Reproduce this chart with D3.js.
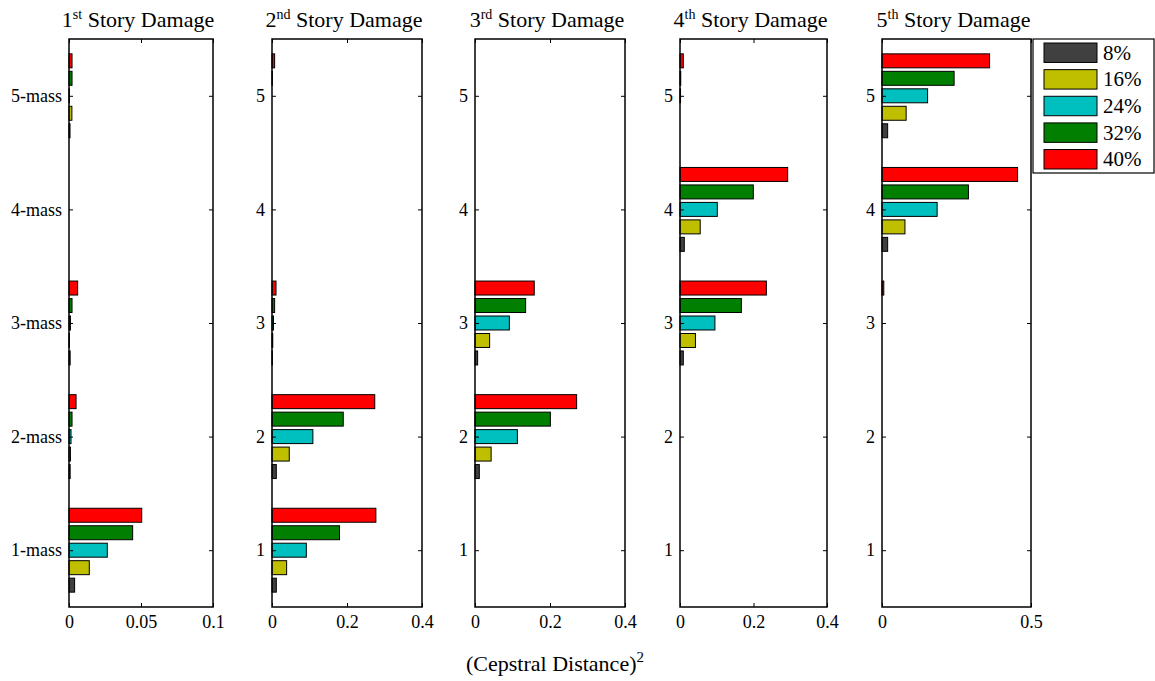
<!DOCTYPE html>
<html>
<head>
<meta charset="utf-8">
<script src="https://cdn.jsdelivr.net/npm/d3@7"></script>
<style>
  body { margin: 0; background: #fff; }
  text { font-family: "Liberation Serif", "Times New Roman", serif; fill: #000; }
</style>
</head>
<body>
<svg id="chart" width="1155" height="681"></svg>
<script>
// damage levels (series) and colours
var levels = ["8%", "16%", "24%", "32%", "40%"];
var colors = ["#404040", "#bfbf00", "#00bfbf", "#007f00", "#ff0000"];

var masses = [1, 2, 3, 4, 5];
var massLabels1 = ["1-mass", "2-mass", "3-mass", "4-mass", "5-mass"];
var massLabels = ["1", "2", "3", "4", "5"];

var titles = ["1", "2", "3", "4", "5"];
var titleSups = ["st", "nd", "rd", "th", "th"];

// rows = damage level (8%..40%), cols = mass 1..5
var story1Vals = [
    [0.0039, 0.0008, 0.0008, 0, 0.0007],
    [0.0141, 0.0010, 0.0003, 0, 0.0020],
    [0.0266, 0.0014, 0.0010, 0, 0.0003],
    [0.0442, 0.0021, 0.0021, 0, 0.0021],
    [0.0505, 0.0049, 0.0060, 0, 0.0021]
];
var story2Vals = [
    [0.0115, 0.0115, 0.001, 0, 0],
    [0.039, 0.046, 0.002, 0, 0],
    [0.0915, 0.109, 0.004, 0, 0],
    [0.180, 0.190, 0.007, 0, 0.001],
    [0.277, 0.274, 0.0107, 0, 0.007]
];
var story3Vals = [
    [0, 0.0115, 0.007, 0, 0],
    [0, 0.043, 0.039, 0, 0],
    [0, 0.113, 0.0916, 0, 0],
    [0, 0.201, 0.135, 0, 0],
    [0, 0.271, 0.158, 0, 0]
];
var story4Vals = [
    [0, 0, 0.009, 0.0117, 0],
    [0, 0, 0.042, 0.055, 0],
    [0, 0, 0.095, 0.1015, 0.0015],
    [0, 0, 0.167, 0.1995, 0.002],
    [0, 0, 0.235, 0.293, 0.009]
];
var story5Vals = [
    [0, 0, 0, 0.019, 0.019],
    [0, 0, 0, 0.077, 0.081],
    [0, 0, 0, 0.185, 0.153],
    [0, 0, 0, 0.290, 0.242],
    [0, 0, 0.006, 0.455, 0.361]
];

var xMaxes = [0.1, 0.4, 0.4, 0.4, 0.5];
var xTicks1 = [0, 0.05, 0.1];
var xTicks234 = [0, 0.2, 0.4];
var xTicks5 = [0, 0.5];

var panelVals = [story1Vals, story2Vals, story3Vals, story4Vals, story5Vals];
var panelTicks = [xTicks1, xTicks234, xTicks234, xTicks234, xTicks5];

function drawChart() {

    var svg = d3.select("#chart");

    var lefts = [69, 272, 475, 680, 882];
    var rights = [213, 422, 625, 827, 1031];
    var plotTop = 39, plotBottom = 607;

    // matlab style grouped bar geometry
    var nSeries = levels.length;
    var groupW = Math.min(0.8, nSeries / (nSeries + 1.5));
    var barW = 0.8 * groupW / nSeries;

    var y = d3.scaleLinear().domain([0.5, 5.5]).range([plotBottom, plotTop]);

    for (let p = 0; p < 5; p++) {

        var x = d3.scaleLinear().domain([0, xMaxes[p]]).range([lefts[p], rights[p]]);
        var g = svg.append("g");

        // bars
        for (let s = 0; s < nSeries; s++) {
            var off = -groupW / 2 + (2 * s + 1) * groupW / (2 * nSeries);
            g.selectAll(".bar" + s)
                .data(masses)
                .enter()
                .append("rect")
                .attr("x", x(0))
                .attr("y", d => y(d + off + barW / 2))
                .attr("width", (d, i) => x(panelVals[p][s][i]) - x(0))
                .attr("height", y(0) - y(barW))
                .style("fill", colors[s])
                .style("stroke", "#000")
                .style("stroke-width", 1)
                .style("display", (d, i) => panelVals[p][s][i] > 0 ? null : "none");
        }

        // box
        g.append("rect")
            .attr("x", lefts[p]).attr("y", plotTop)
            .attr("width", rights[p] - lefts[p]).attr("height", plotBottom - plotTop)
            .style("fill", "none").style("stroke", "#000").style("stroke-width", 1.5);

        // x axis bottom + top ticks (inward)
        var gxb = g.append("g").attr("transform", "translate(0," + plotBottom + ")")
            .call(d3.axisBottom(x).tickValues(panelTicks[p]).tickSize(-4)
                .tickFormat(d3.format("~g")));
        gxb.select(".domain").remove();
        gxb.selectAll("text").attr("dy", "1.0em")
            .style("font-size", "18px").style("font-family", "Liberation Serif");

        var gxt = g.append("g").attr("transform", "translate(0," + plotTop + ")")
            .call(d3.axisTop(x).tickValues(panelTicks[p]).tickSize(-4).tickFormat(""));
        gxt.select(".domain").remove();

        // y axis left + right ticks
        var yLabels = p == 0 ? massLabels1 : massLabels;
        var gyl = g.append("g").attr("transform", "translate(" + lefts[p] + ",0)")
            .call(d3.axisLeft(y).tickValues(masses).tickSize(-4).tickPadding(7)
                .tickFormat((d, i) => yLabels[i]));
        gyl.select(".domain").remove();
        gyl.selectAll("text").style("font-size", "18px").style("font-family", "Liberation Serif");

        var gyr = g.append("g").attr("transform", "translate(" + rights[p] + ",0)")
            .call(d3.axisRight(y).tickValues(masses).tickSize(-4).tickFormat(""));
        gyr.select(".domain").remove();

        // title
        var t = g.append("text")
            .attr("x", (lefts[p] + rights[p]) / 2 - 3)
            .attr("y", 27)
            .attr("text-anchor", "middle")
            .style("font-size", "22px");
        t.append("tspan").text(titles[p]);
        t.append("tspan").attr("dy", -8).style("font-size", "14px").text(titleSups[p]);
        t.append("tspan").attr("dy", 8).text(" Story Damage");
    }

    // x label
    var xl = svg.append("text")
        .attr("x", 555).attr("y", 671)
        .attr("text-anchor", "middle")
        .style("font-size", "22px");
    xl.append("tspan").text("(Cepstral Distance)");
    xl.append("tspan").attr("dy", -9).style("font-size", "15px").text("2");

    // legend
    var leg = svg.append("g");
    leg.append("rect")
        .attr("x", 1033).attr("y", 39).attr("width", 121).attr("height", 134)
        .style("fill", "#fff").style("stroke", "#000").style("stroke-width", 1.2);

    var ly = d3.scaleBand().domain(levels).range([43, 169]).paddingInner(0.27);

    leg.selectAll(".sw")
        .data(levels)
        .enter()
        .append("rect")
        .attr("x", 1044)
        .attr("y", d => ly(d))
        .attr("width", 53)
        .attr("height", ly.bandwidth())
        .style("fill", (d, i) => colors[i])
        .style("stroke", "#000");

    leg.selectAll(".lt")
        .data(levels)
        .enter()
        .append("text")
        .attr("x", 1103)
        .attr("y", d => ly(d) + ly.bandwidth() / 2 + 7)
        .style("font-size", "21px")
        .text(d => d);
}

drawChart();
</script>
</body>
</html>
